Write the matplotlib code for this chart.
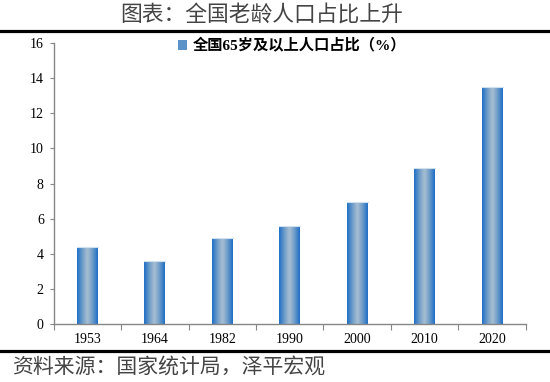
import numpy as np
import matplotlib
matplotlib.use("Agg")
import matplotlib.pyplot as plt
from matplotlib.colors import LinearSegmentedColormap
from matplotlib.patches import Rectangle

# data
years = ["1953", "1964", "1982", "1990", "2000", "2010", "2020"]
share_65 = [4.41, 3.56, 4.91, 5.57, 6.96, 8.87, 13.5]
yticks = [0, 2, 4, 6, 8, 10, 12, 14, 16]

title = "图表：全国老龄人口占比上升"
legend_label = "全国65岁及以上人口占比（%）"
source = "资料来源：国家统计局，泽平宏观"

cjk = ["Noto Sans CJK SC", "DejaVu Sans"]
num_font = ["Liberation Serif", "Noto Sans CJK SC"]

fig = plt.figure(figsize=(5.5, 3.82), dpi=100)
ax = fig.add_axes([0.0973, 0.1518, 0.859, 0.7356])

x = np.arange(len(years))
bars = ax.bar(x, share_65, width=0.31, color="none", edgecolor="none", zorder=2)

# horizontal gradient inside each bar: dark blue edges, pale centre
grad = LinearSegmentedColormap.from_list(
    "bar", ["#1f6fc4", "#6d9cc9", "#a9bfd2", "#6d9cc9", "#1f6fc4"])
g = np.linspace(0, 1, 64).reshape(1, -1)
for b in bars:
    x0, w, h = b.get_x(), b.get_width(), b.get_height()
    im = ax.imshow(g, cmap=grad, aspect="auto", extent=[x0, x0 + w, 0, h],
                   interpolation="bicubic", zorder=2)
    im.set_clip_path(b)
    ax.plot([x0, x0 + w], [h, h], color="#cfe0ee", lw=0.8, zorder=3)

ax.set_xlim(-0.5, len(years) - 0.5)
ax.set_ylim(0, 16)
ax.set_yticks(yticks)
ax.set_yticklabels([str(t) for t in yticks], family=num_font, fontsize=10)

# tick marks between categories, labels at centres
ax.set_xticks(np.arange(len(years) + 1) - 0.5)
ax.set_xticklabels([])
ax.set_xticks(x, minor=True)
ax.set_xticklabels(years, minor=True, family=num_font, fontsize=10)
ax.tick_params(axis="x", which="major", direction="out", length=4, color="#868686")
ax.tick_params(axis="x", which="minor", length=0, pad=6.5)
ax.tick_params(axis="y", direction="out", length=3, color="#868686", pad=4)

for s in ["top", "right"]:
    ax.spines[s].set_visible(False)
for s in ["left", "bottom"]:
    ax.spines[s].set_color("#868686")
    ax.spines[s].set_linewidth(1.0)

handle = Rectangle((0, 0), 1, 1, facecolor="#5b93c8", edgecolor="none")
leg = ax.legend([handle], [legend_label], loc="center", bbox_to_anchor=(0.505, 0.99),
                frameon=False, handlelength=0.6, handleheight=0.6, handletextpad=0.4,
                prop={"family": num_font, "weight": "bold", "size": 11})

# header / footer
fig.text(0.475, 0.963, title, ha="center", va="center", family=cjk,
         fontsize=15.7, color="#444444", weight="light")
fig.add_artist(plt.Line2D([0, 1], [0.919, 0.919], color="black", lw=2.3))
fig.add_artist(plt.Line2D([0, 1], [0.081, 0.081], color="black", lw=2.3))
fig.text(0.022, 0.037, source, ha="left", va="center", family=cjk,
         fontsize=15, color="#444444", weight="light")

fig.savefig("out.png", dpi=100)
